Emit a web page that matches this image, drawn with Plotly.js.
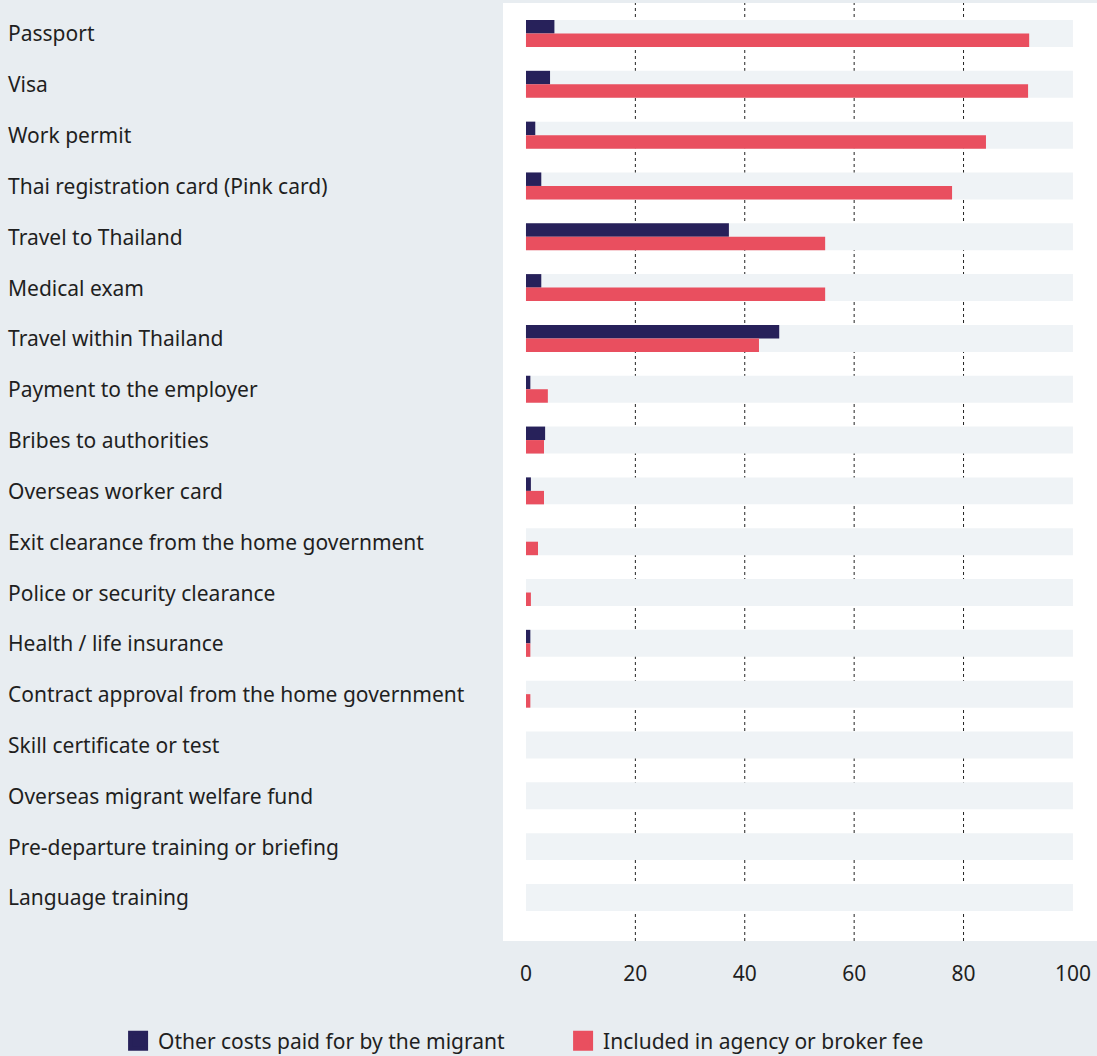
<!DOCTYPE html>
<html>
<head>
<meta charset="utf-8">
<script src="https://cdn.plot.ly/plotly-3.0.1.min.js"></script>
<style>
html,body{margin:0;padding:0;background:#e8edf1;}
#chart{width:1097px;height:1056px;}
</style>
</head>
<body>
<div id="chart"></div>
<script>
const categories = [
  "Passport","Visa","Work permit","Thai registration card (Pink card)","Travel to Thailand",
  "Medical exam","Travel within Thailand","Payment to the employer","Bribes to authorities",
  "Overseas worker card","Exit clearance from the home government","Police or security clearance",
  "Health / life insurance","Contract approval from the home government","Skill certificate or test",
  "Overseas migrant welfare fund","Pre-departure training or briefing","Language training"
];
const otherCosts = [5.2, 4.4, 1.7, 2.8, 37.1, 2.8, 46.3, 0.8, 3.5, 0.9, 0, 0, 0.8, 0, 0, 0, 0, 0];
const agencyFee  = [92.0, 91.8, 84.1, 77.9, 54.7, 54.7, 42.6, 4.0, 3.3, 3.3, 2.2, 0.9, 0.8, 0.8, 0, 0, 0, 0];
const seriesNames = ["Other costs paid for by the migrant", "Included in agency or broker fee"];
const tickValues = [0, 20, 40, 60, 80, 100];
const gridValues = [20, 40, 60, 80];
const fullScale = 100;

const DARK = "#27215a";
const RED = "#e94f5f";
const FONT = "Noto Sans, Open Sans, sans-serif";
const TXT = "#1f1f1f";

const traces = [
  {type:"bar", orientation:"h", y:categories, x:otherCosts, name:seriesNames[0],
   marker:{color:DARK}, showlegend:false, hoverinfo:"x+y"},
  {type:"bar", orientation:"h", y:categories, x:agencyFee, name:seriesNames[1],
   marker:{color:RED}, showlegend:false, hoverinfo:"x+y"},
  {type:"scatter", mode:"markers", x:[null], y:[null], name:seriesNames[0],
   marker:{color:DARK, symbol:"square", size:16, line:{color:DARK, width:4}}, showlegend:true},
  {type:"scatter", mode:"markers", x:[null], y:[null], name:seriesNames[1],
   marker:{color:RED, symbol:"square", size:16, line:{color:RED, width:4}}, showlegend:true}
];

const halfBand = 0.2655;
const shapes = [];
categories.forEach((c, i) => {
  shapes.push({type:"rect", layer:"below", xref:"x", yref:"y",
    x0:0, x1:fullScale, y0:i - halfBand, y1:i + halfBand,
    fillcolor:"#eff3f6", line:{width:0}});
});
gridValues.forEach(v => {
  shapes.push({type:"line", layer:"between", xref:"x", yref:"paper",
    x0:v, x1:v, y0:0, y1:1, line:{color:"#222", width:1, dash:"dot"}});
});

const annotations = categories.map(c => ({
  text:c, xref:"paper", yref:"y", x:-0.8367, y:c, xanchor:"left", yanchor:"middle",
  showarrow:false, font:{family:FONT, size:21, color:TXT}
}));

const layout = {
  width:1097, height:1056,
  margin:{l:503, r:0, t:3, b:115, autoexpand:false},
  paper_bgcolor:"#e8edf1",
  plot_bgcolor:"#ffffff",
  barmode:"group",
  bargap:0.469,
  bargroupgap:0,
  font:{family:FONT, size:21, color:TXT},
  xaxis:{range:[-4.2, 104.4], tickvals:tickValues, ticktext:tickValues.map(String),
    showgrid:false, zeroline:false, showline:false, ticks:"outside", ticklen:14,
    tickcolor:"rgba(0,0,0,0)", tickfont:{family:FONT, size:21, color:TXT}, fixedrange:true},
  yaxis:{type:"category", range:[17.857, -0.6], showticklabels:false, showgrid:false,
    zeroline:false, showline:false, ticks:"", fixedrange:true},
  shapes:shapes,
  annotations:annotations,
  showlegend:true,
  legend:{orientation:"h", x:-0.648, xanchor:"left", y:-0.1066, yanchor:"middle",
    bgcolor:"rgba(0,0,0,0)", font:{family:FONT, size:21, color:TXT},
    entrywidth:400, entrywidthmode:"pixels", itemsizing:"trace"}
};

Plotly.newPlot("chart", traces, layout, {displayModeBar:false, staticPlot:true});
</script>
</body>
</html>
